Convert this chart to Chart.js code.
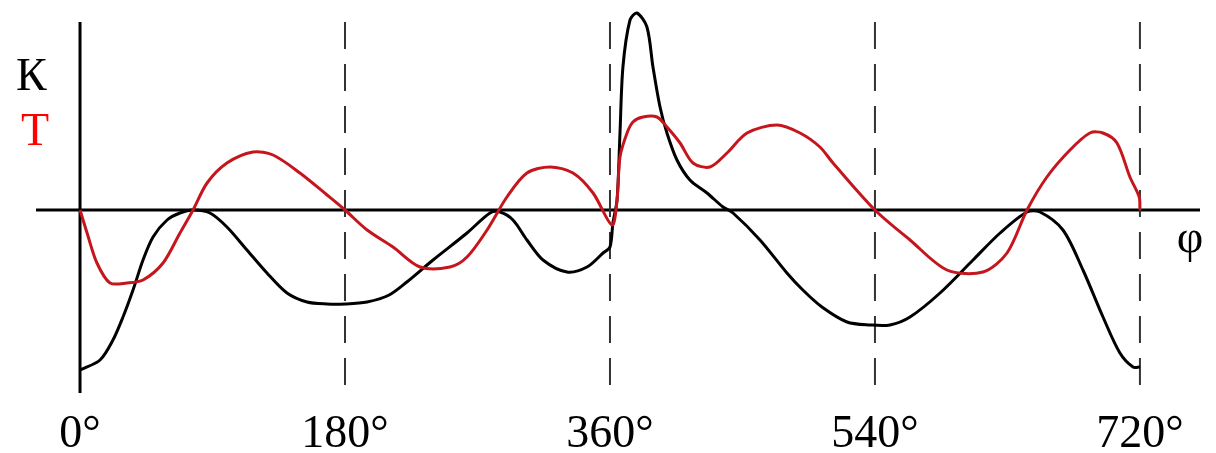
<!DOCTYPE html>
<html>
<head>
<meta charset="utf-8">
<script src="https://cdn.jsdelivr.net/npm/chart.js@4"></script>
<style>
  html, body { margin: 0; padding: 0; background: #fff; }
</style>
</head>
<body>
<canvas id="chart" width="1216" height="453"></canvas>
<script>
// crank angle, degrees
const tickDeg = [0, 180, 360, 540, 720];
const dashDeg = [180, 360, 540, 720];

// K curve (black)
const kDeg = [0, 13.6, 22.4, 29.2, 36, 42.8, 49.6, 59.1, 67.9, 76.8, 88.3, 99.8, 113.4, 127, 140.6, 154.2, 167.8, 180, 195, 210, 222, 239.8, 262.9, 278.5, 285.3, 294.1, 303.6, 314.5, 330.8, 344.4, 355.3, 360, 362, 364.8, 366.8, 368.8, 373.6, 378.3, 385.1, 389.2, 394, 398.7, 405.5, 414.3, 425.9, 436.8, 443.6, 461.9, 480.2, 491, 504, 521, 536.6, 550.2, 563.8, 584.2, 606.6, 625, 643.3, 652.1, 667.7, 681.3, 694.9, 706.4, 715.3, 720];
const kVal = [-80, -75, -65, -53.5, -40, -25, -13.5, -5, -1.5, 0, -1.5, -8.5, -20, -31.5, -41.5, -46, -47, -47, -46, -42.5, -36, -25, -11.5, -1.5, -1, -5, -15, -25, -31, -28.5, -21.5, -18.5, -6.5, 5, 38.5, 71.5, 95, 98.5, 91.5, 71.5, 51.5, 38.5, 25, 15, 8.5, 1.5, -1.5, -15, -31.5, -40, -48.5, -56, -57.5, -57.5, -53.5, -41.5, -25, -11.5, -1, -1, -10, -30, -53.5, -71.5, -78.5, -78.5];

// T curve (red)
const tDeg = [0, 4.8, 11.5, 20.4, 31.9, 42.8, 56.4, 67.9, 76.8, 86.3, 99.8, 117.5, 131.1, 149.4, 167.8, 180, 195, 212.6, 231, 251.3, 262.9, 276.5, 290, 303.6, 319.3, 334.9, 348.5, 361.4, 364.8, 366.8, 371.6, 375.6, 382.4, 391.9, 398.7, 407.6, 416.4, 427.9, 439.5, 453.1, 473.4, 489.1, 502.6, 511.5, 540, 563.8, 588.9, 613.4, 629.7, 643.3, 656.8, 672.5, 686, 694.9, 704.4, 713.2, 719.5, 720];
const tVal = [0, -11.5, -26.5, -36.5, -36.5, -35, -26.5, -11.5, 0, 13.5, 23.5, 29, 27.5, 18.5, 7.5, 0, -10, -18.5, -28.5, -28.5, -23.5, -10, 6.5, 18.5, 21.5, 18.5, 8.5, -7.5, 5, 26.5, 38.5, 44, 46.5, 46.5, 41.5, 33.5, 23.5, 21.5, 28.5, 38.5, 42.5, 38.5, 31.5, 23.5, 0, -15, -30, -31, -21.5, 0, 16.5, 30, 38.5, 38.5, 33.5, 16.5, 6.5, 0];

const serif = '"Liberation Serif", "Times New Roman", serif';

const axesPlugin = {
  id: 'axes',
  beforeDatasetsDraw(chart) {
    const { ctx, chartArea, scales: { x, y } } = chart;
    ctx.save();
    // horizontal axis
    ctx.strokeStyle = '#000';
    ctx.lineWidth = 3;
    ctx.beginPath();
    ctx.moveTo(chartArea.left, y.getPixelForValue(0));
    ctx.lineTo(chartArea.right, y.getPixelForValue(0));
    ctx.stroke();
    // vertical axis
    ctx.beginPath();
    ctx.moveTo(x.getPixelForValue(0), y.getPixelForValue(94));
    ctx.lineTo(x.getPixelForValue(0), y.getPixelForValue(-91.5));
    ctx.stroke();
    // dashed lines
    ctx.strokeStyle = '#333';
    ctx.lineWidth = 2;
    ctx.setLineDash([27, 15]);
    dashDeg.forEach(d => {
      ctx.beginPath();
      ctx.moveTo(x.getPixelForValue(d), y.getPixelForValue(94));
      ctx.lineTo(x.getPixelForValue(d), y.getPixelForValue(-91));
      ctx.stroke();
    });
    ctx.restore();
  },
  afterDraw(chart) {
    const { ctx, scales: { x } } = chart;
    ctx.save();
    ctx.font = '46px ' + serif;
    ctx.textBaseline = 'alphabetic';
    ctx.textAlign = 'center';
    ctx.fillStyle = '#000';
    tickDeg.forEach(d => {
      ctx.fillText(d + '°', x.getPixelForValue(d), 447);
    });
    ctx.textAlign = 'left';
    ctx.fillText('К', 16, 90);
    ctx.fillStyle = '#ff0000';
    ctx.fillText('Т', 21, 145);
    ctx.fillStyle = '#000';
    ctx.textAlign = 'center';
    ctx.fillText('φ', 1190, 252);
    ctx.restore();
  }
};

new Chart(document.getElementById('chart'), {
  type: 'line',
  data: {
    datasets: [{
      label: 'Т',
      data: tDeg.map((d, i) => ({ x: d, y: tVal[i] })),
      borderColor: '#c4161c',
      borderWidth: 3,
      pointRadius: 0,
      tension: 0.3,
      fill: false
    }, {
      label: 'К',
      data: kDeg.map((d, i) => ({ x: d, y: kVal[i] })),
      borderColor: '#000',
      borderWidth: 3,
      pointRadius: 0,
      tension: 0.3,
      fill: false
    }]
  },
  options: {
    responsive: false,
    animation: false,
    devicePixelRatio: 1,
    layout: { padding: { left: 36, right: 16, top: 10, bottom: 58 } },
    scales: {
      x: { type: 'linear', min: -29.9, max: 760.8, display: false },
      y: { min: -92.5, max: 100, display: false }
    },
    plugins: {
      legend: { display: false },
      tooltip: { enabled: false }
    }
  },
  plugins: [axesPlugin]
});
</script>
</body>
</html>
